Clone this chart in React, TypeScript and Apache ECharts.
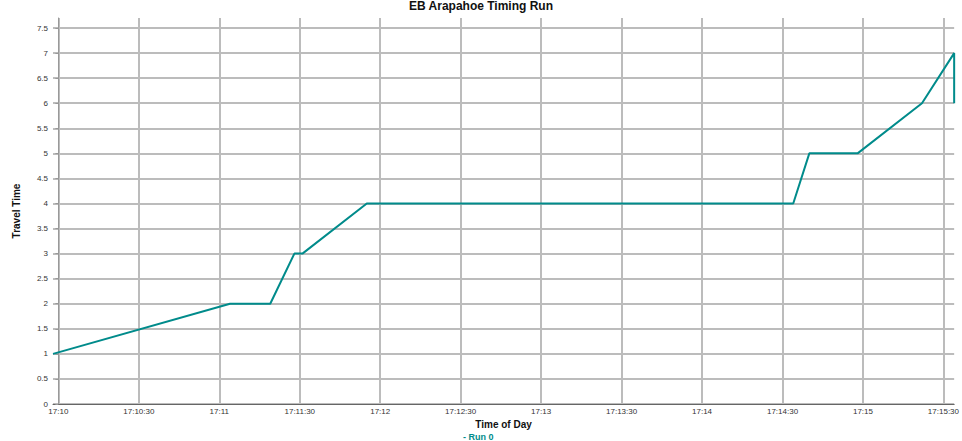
import React, { useEffect, useRef } from "react";
import * as echarts from "echarts";

const TITLE = "EB Arapahoe Timing Run";
const SERIES_NAME = "Run 0";
const X_NAME = "Time of Day";
const Y_NAME = "Travel Time";
const BASE_TIME = "17:10:00";
const AXIS_MIN_TIME = "17:09:58";
const AXIS_MAX_TIME = "17:15:34";
const times = [
  "17:09:58", "17:11:04", "17:11:19", "17:11:28", "17:11:31", "17:11:55",
  "17:14:34", "17:14:40", "17:14:58", "17:15:22", "17:15:34", "17:15:34",
];
const travelTimes = [1, 2, 2, 3, 3, 4, 4, 5, 5, 6, 7, 6];
const Y_MAX = 7.7;

const toSec = (t: string) => {
  const [h, m, s] = t.split(":").map(Number);
  return h * 3600 + m * 60 + s;
};
const base = toSec(BASE_TIME);
const rel = (t: string) => toSec(t) - base;
const fmt = (v: number) => {
  const total = Math.round(base + v);
  const h = Math.floor(total / 3600);
  const m = Math.floor((total % 3600) / 60);
  const s = total % 60;
  const pad = (n: number) => String(n).padStart(2, "0");
  return s === 0 ? `${h}:${pad(m)}` : `${h}:${pad(m)}:${pad(s)}`;
};

const FONT = "Liberation Sans, Arial, Helvetica, sans-serif";
const TEAL = "#008b8b";

export default function App() {
  const ref = useRef<HTMLDivElement>(null);
  useEffect(() => {
    document.body.style.margin = "0";
    if (!ref.current) return;
    const chart = echarts.init(ref.current, null, { renderer: "svg" });
    chart.setOption({
      animation: false,
      textStyle: { fontFamily: FONT },
      title: {
        text: TITLE,
        left: "center",
        top: 0,
        padding: [0, 0, 0, 0],
        textStyle: { fontSize: 12, fontWeight: "bold", color: "#111", fontFamily: FONT, lineHeight: 12 },
      },
      legend: {
        bottom: 0,
        left: 458,
        icon: "none",
        itemWidth: 0,
        itemHeight: 0,
        padding: [0, 0, 0, 0],
        formatter: "- {name}",
        textStyle: { color: TEAL, fontWeight: "bold", fontSize: 9, fontFamily: FONT },
        data: [SERIES_NAME],
      },
      grid: { left: 53, right: 3, top: 18, bottom: 37, containLabel: false },
      xAxis: {
        type: "value",
        min: rel(AXIS_MIN_TIME),
        max: rel(AXIS_MAX_TIME),
        splitNumber: 11,
        minInterval: 30,
        maxInterval: 30,
        name: X_NAME,
        nameLocation: "middle",
        nameGap: 12,
        nameTextStyle: { fontSize: 10, fontWeight: "bold", color: "#111", fontFamily: FONT },
        axisLine: { show: true, lineStyle: { color: "#666", width: 1 } },
        axisTick: { show: false },
        axisLabel: {
          formatter: (v: number) => fmt(v),
          fontSize: 8,
          color: "#333",
          margin: 3,
          showMinLabel: false,
          showMaxLabel: false,
          fontFamily: FONT,
        },
        splitLine: {
          show: true,
          showMinLine: false,
          showMaxLine: false,
          lineStyle: { color: "#bcbcbc", width: 2 },
        },
      },
      yAxis: {
        type: "value",
        min: 0,
        max: Y_MAX,
        interval: 0.5,
        name: Y_NAME,
        nameLocation: "middle",
        nameGap: 32,
        nameTextStyle: { fontSize: 10, fontWeight: "bold", color: "#111", fontFamily: FONT },
        axisLine: { show: true, lineStyle: { color: "#999", width: 1 } },
        axisTick: { show: true, length: 3, lineStyle: { color: "#999" } },
        axisLabel: {
          fontSize: 8,
          color: "#333",
          margin: 5,
          showMaxLabel: false,
          fontFamily: FONT,
        },
        splitLine: {
          show: true,
          showMaxLine: false,
          lineStyle: { color: "#bcbcbc", width: 2 },
        },
      },
      series: [
        {
          name: SERIES_NAME,
          type: "line",
          data: times.map((t, i) => [rel(t), travelTimes[i]]),
          showSymbol: false,
          symbol: "none",
          lineStyle: { color: TEAL, width: 2 },
          itemStyle: { color: TEAL },
        },
      ],
    });
    return () => chart.dispose();
  }, []);
  return <div ref={ref} style={{ width: 962, height: 441 }} />;
}
